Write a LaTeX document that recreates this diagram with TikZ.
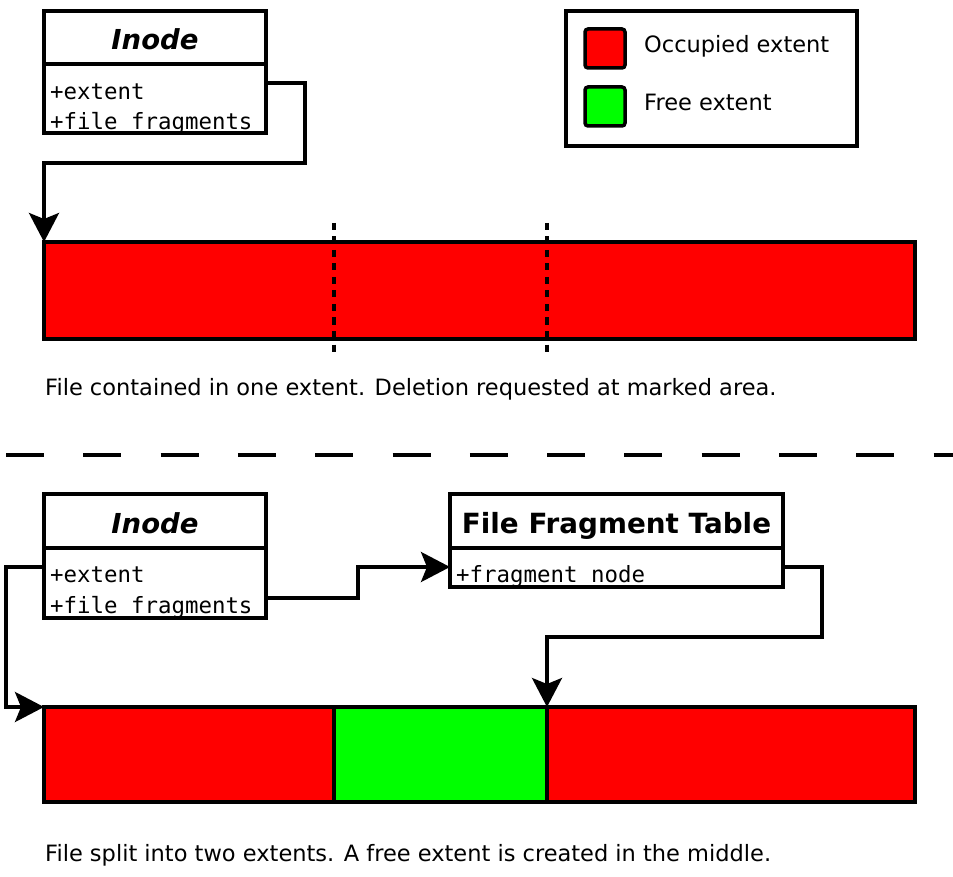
\documentclass[tikz,border=0pt]{standalone}
\usepackage{fontspec}
\setmainfont{DejaVu Sans}
\newfontfamily\attrfont{DejaVu Sans Mono}
\usetikzlibrary{arrows.meta}

\definecolor{occupied}{RGB}{255,0,0}
\definecolor{freeext}{RGB}{0,255,0}

\tikzset{
  box/.style={draw=black, line width=3.5pt, rectangle, inner sep=0pt, outer sep=0pt, anchor=north west},
  extentbox/.style={box, fill=occupied},
  freebox/.style={box, fill=freeext},
  keybox/.style={box, rounded corners=3pt},
  classtitle/.style={anchor=base, inner sep=0pt, font=\fontsize{27.8}{30}\selectfont\bfseries},
  attr/.style={anchor=base west, inner sep=0pt, font=\fontsize{22.4}{26}\selectfont\attrfont},
  plain/.style={anchor=base west, inner sep=0pt, font=\fontsize{22.5}{26}\selectfont},
  conn/.style={line width=3.5pt, -{Stealth[length=29pt,width=30pt,inset=6pt]}},
  rule/.style={line width=3.5pt},
  marker/.style={line width=3.5pt, dash pattern=on 7pt off 6.5pt},
  separator/.style={line width=3.5pt, dash pattern=on 38pt off 39.3pt},
}

\begin{document}
\begin{tikzpicture}[x=1pt, y=-1pt]
\useasboundingbox (0,0) rectangle (953,877);

% ---------- upper half: file in one extent ----------
% Inode class
\node[attr] (inodeAext) at (50,99.5) {+extent};
\node[attr] (inodeAfrag) at (50,129.5) {+file fragments};
\node[box, minimum width=222pt, minimum height=122pt] (inodeA) at (44,11) {};
\draw[rule] ([yshift=-53pt]inodeA.north west) -- ([yshift=-53pt]inodeA.north east);
\node[classtitle, font=\fontsize{27.5}{30}\selectfont\bfseries\itshape] (inodeAtitle) at (155,49.5) {Inode};

% legend
\node[box, minimum width=291pt, minimum height=135pt] (legend) at (566,11) {};
\node[keybox, fill=occupied, minimum width=40pt, minimum height=39pt] (keyocc) at (585,29) {};
\node[keybox, fill=freeext, minimum width=40pt, minimum height=39pt] (keyfree) at (585,87) {};
\node[plain] (keyocctext) at (644,52.5) {Occupied extent};
\node[plain] (keyfreetext) at (644,110.5) {Free extent};

% the single extent
\node[extentbox, minimum width=871pt, minimum height=97pt] (bar1) at (44,242) {};
\draw[marker] (334,223) -- (334,356);
\draw[marker] (547,223) -- (547,356);

% inode -> extent
\draw[conn] ([yshift=-11pt]inodeA.east) -- ++(39,0) -- ++(0,80) -| (bar1.north west);

\node[plain] (caption1) at (45,395.5) {File contained in one extent. Deletion requested at marked area.};

% ---------- separator ----------
\draw[separator] (6,455) -- (953,455);

% ---------- lower half: file split in two ----------
\node[attr] (inodeBext) at (50,582) {+extent};
\node[attr] (inodeBfrag) at (50,613) {+file fragments};
\node[box, minimum width=222pt, minimum height=124pt] (inodeB) at (44,494) {};
\draw[rule] ([yshift=-54pt]inodeB.north west) -- ([yshift=-54pt]inodeB.north east);
\node[classtitle, font=\fontsize{27.5}{30}\selectfont\bfseries\itshape] (inodeBtitle) at (155,533) {Inode};

% file fragment table class
\node[attr] (fftnode) at (456,582) {+fragment node};
\node[box, minimum width=333pt, minimum height=93pt] (fft) at (450,494) {};
\draw[rule] ([yshift=-54pt]fft.north west) -- ([yshift=-54pt]fft.north east);
\node[classtitle] (ffttitle) at (616.5,533) {File Fragment Table};

% the two extents with the freed one in between
\node[extentbox, minimum width=290pt, minimum height=95pt] (partA) at (44,707) {};
\node[freebox, minimum width=213pt, minimum height=95pt] (hole) at (334,707) {};
\node[extentbox, minimum width=368pt, minimum height=95pt] (partB) at (547,707) {};

% connectors
\draw[conn] ([yshift=-11pt]inodeB.west) -- ++(-38,0) |- (partA.north west);
\draw[conn] ([yshift=-42pt]inodeB.east) -- ++(92,0) |- ([yshift=-26.5pt]fft.west);
\draw[conn] ([yshift=-26.5pt]fft.east) -- ++(39,0) -- ++(0,70) -| (partB.north west);

\node[plain] (caption2) at (45,861.5) {File split into two extents. A free extent is created in the middle.};
\end{tikzpicture}
\end{document}
